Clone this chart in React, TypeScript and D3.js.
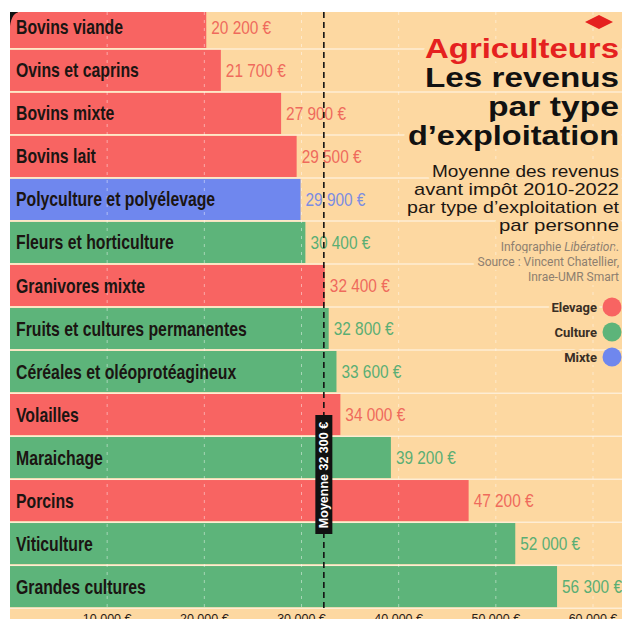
import React from 'react'
import * as d3 from 'd3'

// Revenus moyens avant impôt 2010-2022 par type d'exploitation (par personne)
const categories = [
  'Bovins viande',
  'Ovins et caprins',
  'Bovins mixte',
  'Bovins lait',
  'Polyculture et polyélevage',
  'Fleurs et horticulture',
  'Granivores mixte',
  'Fruits et cultures permanentes',
  'Céréales et oléoprotéagineux',
  'Volailles',
  'Maraichage',
  'Porcins',
  'Viticulture',
  'Grandes cultures',
]
const values = [20200, 21700, 27900, 29500, 29900, 30400, 32400, 32800, 33600, 34000, 39200, 47200, 52000, 56300]
const groups = ['Elevage', 'Elevage', 'Elevage', 'Elevage', 'Mixte', 'Culture', 'Elevage', 'Culture', 'Culture', 'Elevage', 'Culture', 'Elevage', 'Culture', 'Culture']
const legendLabels = ['Elevage', 'Culture', 'Mixte']
const xTicks = [10000, 20000, 30000, 40000, 50000, 60000]
const average = 32300

const titleLines = ['Les revenus', 'par type', 'd\u2019exploitation']
const subtitleLines = ['Moyenne des revenus', 'avant impôt 2010-2022', 'par type d\u2019exploitation et', 'par personne']

const W = 624
const H = 619
const plot = { left: 10, top: 12, right: 622, bottom: 619 }
const BG = '#fdd8a1'

const barColor = d3.scaleOrdinal<string, string>().domain(legendLabels).range(['#f86462', '#5db47a', '#6f87ee'])
const labelColor = d3.scaleOrdinal<string, string>().domain(legendLabels).range(['#ef6a5c', '#5aae74', '#7b8de2'])

const fr = d3.formatLocale({ decimal: ',', thousands: '\u00a0', grouping: [3], currency: ['', ' €'] })
const fmt = (v: number) => fr.format(',')(v).replace(/\u00a0/g, ' ') + ' €'

const sans = "'Liberation Sans', Arial, sans-serif"

export default function App() {
  const x = d3.scaleLinear().domain([0, 60000]).range([10, 593])
  const y = d3.scaleBand<string>().domain(categories).range([6, 608]).paddingInner(0.045).paddingOuter(0.02)
  const step = y.step()
  const xa = x(average)
  const mid = (c: string) => (y(c) as number) + y.bandwidth() / 2

  return (
    <svg width={W} height={H} style={{ position: 'absolute', left: 0, top: 0, background: '#fff' }}>
      <defs>
        <clipPath id="plotClip">
          <rect x={plot.left} y={plot.top} width={plot.right - plot.left} height={plot.bottom - plot.top} />
        </clipPath>
      </defs>
      <g clipPath="url(#plotClip)">
        <rect x={plot.left} y={plot.top} width={plot.right - plot.left} height={plot.bottom - plot.top} fill={BG} />

        {/* row separators */}
        {categories.map((c, i) => (
          <line key={'sep' + i} x1={plot.left} x2={plot.right} y1={6 + step * (i + 1)} y2={6 + step * (i + 1)} stroke="#fff" strokeOpacity={0.55} strokeWidth={1.5} />
        ))}

        {/* corner mark behind first bar */}
        <rect x={plot.left} y={plot.top} width={8} height={14} fill="#111" />

        {/* bars */}
        {categories.map((c, i) =>
          i === 0 ? (
            <path
              key={c}
              d={`M${x(0)},${plot.top + 14} Q${x(0) + 2},${plot.top} ${x(0) + 10},${plot.top} H${x(values[i])} V${(y(c) as number) + y.bandwidth()} H${x(0)} Z`}
              fill={barColor(groups[i])}
            />
          ) : (
            <rect key={c} x={x(0)} y={y(c)} width={x(values[i]) - x(0)} height={y.bandwidth()} fill={barColor(groups[i])} />
          )
        )}

        {/* vertical dashed grid */}
        {xTicks.map((t) => (
          <line key={'g' + t} x1={x(t)} x2={x(t)} y1={plot.top} y2={608} stroke="#fff" strokeOpacity={0.45} strokeDasharray="3,5" strokeWidth={1} />
        ))}

        {/* category labels (condensed bold) */}
        {categories.map((c) => (
          <text key={'l' + c} transform={`translate(16,${mid(c)}) scale(0.81,1)`} dy="0.36em" fontFamily={sans} fontWeight="bold" fontSize={19.5} fill="#1b1512">
            {c}
          </text>
        ))}

        {/* value labels */}
        {categories.map((c, i) => (
          <text key={'v' + c} transform={`translate(${x(values[i]) + 5},${mid(c)}) scale(0.88,1)`} dy="0.36em" fontFamily={sans} fontSize={17.5} fill={labelColor(groups[i])}>
            {fmt(values[i])}
          </text>
        ))}

        {/* axis tick labels */}
        {xTicks.map((t) => (
          <text key={'t' + t} x={x(t)} y={623} textAnchor="middle" fontFamily={sans} fontSize={12.5} fill="#2a2018">
            {fmt(t)}
          </text>
        ))}

        {/* average line */}
        <line x1={xa} x2={xa} y1={plot.top} y2={610} stroke="#111" strokeWidth={1.6} strokeDasharray="6,4" />
        <rect x={xa - 8.5} y={415} width={17} height={119} fill="#111" />
        <text transform={`translate(${xa + 4.5},${475}) rotate(-90)`} textAnchor="middle" fontFamily={sans} fontWeight="bold" fontSize={12.5} fill="#fff">
          {'Moyenne ' + fmt(average)}
        </text>

        {/* title block */}
        <path d="M599,15 L613,22 L599,29 L585,22 Z" fill="#e5211f" />
        <g textAnchor="end" stroke={BG} strokeWidth={8} style={{ paintOrder: 'stroke' }} strokeLinejoin="round">
          <text x={619} y={58} fontFamily={sans} fontWeight="900" fontSize={27} fill="#e5211f" textLength={194} lengthAdjust="spacingAndGlyphs">
            Agriculteurs
          </text>
          {titleLines.map((t, i) => (
            <text key={t} x={619} y={87 + i * 29} fontFamily={sans} fontWeight="900" fontSize={27} fill="#111" textLength={[194, 131, 211][i]} lengthAdjust="spacingAndGlyphs">
              {t}
            </text>
          ))}
          {subtitleLines.map((t, i) => (
            <text key={t} x={619} y={177 + i * 18} fontFamily={sans} fontSize={17} fill="#1d1712" textLength={[187, 205, 212, 120][i]} lengthAdjust="spacingAndGlyphs">
              {t}
            </text>
          ))}
          <text x={619} y={251} fontFamily="Roboto, sans-serif" fontSize={12} fill="#8d7f70">
            Infographie <tspan fontStyle="italic">Libération</tspan>.
          </text>
          <text x={619} y={266} fontFamily="Roboto, sans-serif" fontSize={12} fill="#8d7f70">
            Source : Vincent Chatellier,
          </text>
          <text x={619} y={281} fontFamily="Roboto, sans-serif" fontSize={12} fill="#8d7f70">
            Inrae-UMR Smart
          </text>
        </g>

        {/* legend */}
        {legendLabels.map((l, i) => (
          <g key={l} transform={`translate(0,${307 + i * 25})`}>
            <text x={597} y={0} dy="0.35em" textAnchor="end" fontFamily="Roboto, sans-serif" fontWeight="bold" fontSize={13} fill="#3a2f25" stroke={BG} strokeWidth={6} style={{ paintOrder: 'stroke' }}>
              {l}
            </text>
            <circle cx={612} cy={0} r={9.5} fill={barColor(l)} />
          </g>
        ))}
      </g>
    </svg>
  )
}
